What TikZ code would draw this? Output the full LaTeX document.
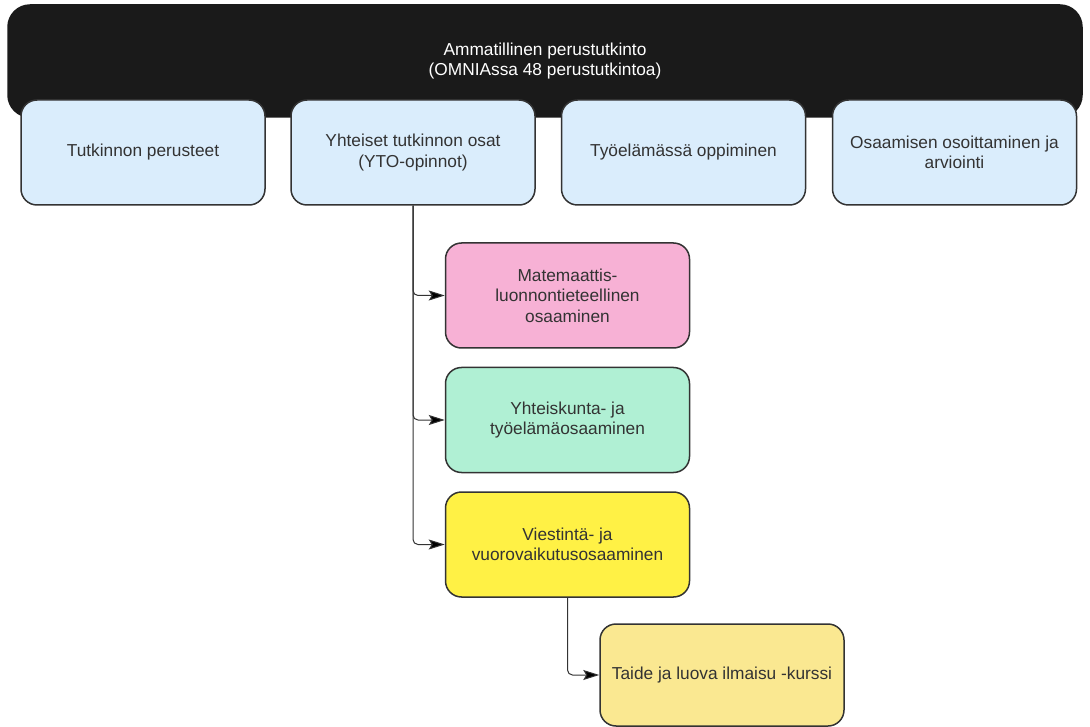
\documentclass[tikz,border=0pt]{standalone}
\usepackage{fontspec}
\setmainfont{Liberation Sans}
\usetikzlibrary{arrows.meta,positioning}
\definecolor{topfill}{HTML}{1A1A1A}
\definecolor{bluefill}{HTML}{DAEDFC}
\definecolor{pinkfill}{HTML}{F7B1D5}
\definecolor{greenfill}{HTML}{B0F0D4}
\definecolor{yellowfill}{HTML}{FFF145}
\definecolor{sandfill}{HTML}{FAE891}
\definecolor{edge}{HTML}{333333}
\tikzset{%
    every node/.style={font=\fontsize{17.3}{20.5}\selectfont,text=edge,align=center},
    box/.style={rectangle,rounded corners=16pt,draw=edge,line width=1.5pt,
        minimum width=244pt,minimum height=105pt,inner sep=0pt},
    topbox/.style={box,fill=topfill,draw=topfill,minimum width=1074pt,
        minimum height=112pt,rounded corners=22pt,text=white},
    tip/.style={-{Stealth[length=16pt,width=10pt,inset=3pt,fill=black]}},
    conn/.style={tip,draw=edge,line width=1pt},
    rc/.style={rounded corners=5pt}
}
\begin{document}
\begin{tikzpicture}[x=1pt,y=-1pt]
            \useasboundingbox (0,0) rectangle (1090,727);
            \node [topbox] (top) at (545,61) {Ammatillinen perustutkinto\\(OMNIAssa 48 perustutkintoa)};
            \node [box,fill=bluefill] (b-1) at (143,152.5) {Tutkinnon perusteet};
            \node [box,fill=bluefill] (b-2) at (413,152.5) {Yhteiset tutkinnon osat\\(YTO-opinnot)};
            \node [box,fill=bluefill] (b-3) at (683.5,152.5) {Työelämässä oppiminen};
            \node [box,fill=bluefill] (b-4) at (954.5,152.5) {Osaamisen osoittaminen ja\\arviointi};
            %%%%%
            \node [box,fill=pinkfill] (m-1) at (567.5,295.5) {Matemaattis-\\luonnontieteellinen\\osaaminen};
            \node [box,fill=greenfill,below=18pt of m-1] (m-2) {Yhteiskunta- ja\\työelämäosaaminen};
            \node [box,fill=yellowfill,below=18pt of m-2] (m-3) {Viestintä- ja\\vuorovaikutusosaaminen};
            \node [box,fill=sandfill,minimum height=102pt] (taide) at (722,675) {Taide ja luova ilmaisu -kurssi};
            %%%%%
            \draw[conn,rc] (b-2) |- (m-1);
            \draw[conn,rc] (b-2) |- (m-2);
            \draw[conn,rc] (b-2) |- (m-3);
            \draw[conn,rc] (m-3) |- (taide);
\end{tikzpicture}
\end{document}
